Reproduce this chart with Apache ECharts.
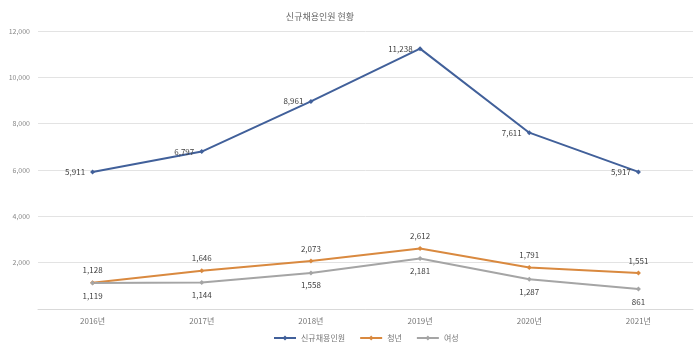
<!DOCTYPE html>
<html><head><meta charset="utf-8">
<script src="https://cdn.jsdelivr.net/npm/echarts@6/dist/echarts.min.js"></script>
<style>html,body{margin:0;padding:0;background:#fff}#c{width:700px;height:353px}</style>
</head><body><div id="c"></div>
<script>
const categories = ['2016년','2017년','2018년','2019년','2020년','2021년'];
const seriesNames = ['신규채용인원','청년','여성'];
const totalValues = [5911, 6797, 8961, 11238, 7611, 5917];
const youthValues = [1128, 1646, 2073, 2612, 1791, 1551];
const womenValues = [1119, 1144, 1558, 2181, 1287, 861];
const yTicks = [0, 2000, 4000, 6000, 8000, 10000, 12000];

const fmt = v => v.toLocaleString('en-US');
const chart = echarts.init(document.getElementById('c'));
const font = 'Noto Sans CJK KR';
chart.setOption({
  backgroundColor: '#fff',
  animation: false,
  textStyle: { fontFamily: font },
  title: { text: '신규채용인원 현황', left: 315, textAlign: 'center', top: 7,
    textStyle: { fontSize: 9, color: '#666', fontWeight: 'normal', fontFamily: font } },
  legend: { bottom: 6, left: 268, itemWidth: 22, itemHeight: 6, itemGap: 14,
    textStyle: { fontSize: 8, color: '#777' },
    data: seriesNames },
  grid: { left: 38, right: 7, top: 31, bottom: 44, containLabel: false },
  xAxis: { type: 'category', data: categories, boundaryGap: true,
    axisLine: { lineStyle: { color: '#d9d9d9' } }, axisTick: { show: false },
    axisLabel: { fontSize: 8, color: '#777', margin: 8 } },
  yAxis: { type: 'value', min: yTicks[0], max: yTicks[yTicks.length-1], interval: 2000,
    axisLine: { show: false }, axisTick: { show: false },
    splitLine: { lineStyle: { color: '#e3e3e3' } },
    axisLabel: { fontSize: 7, color: '#888', margin: 8, formatter: v => v === 0 ? '' : fmt(v) } },
  series: [
    { name: seriesNames[0], type: 'line', data: totalValues, symbol: 'diamond', symbolSize: 5,
      lineStyle: { width: 2, color: '#41609a' }, itemStyle: { color: '#41609a' },
      label: { show: true, position: 'left', distance: 5, fontSize: 8, color: '#404040', formatter: p => fmt(p.value) } },
    { name: seriesNames[1], type: 'line', data: youthValues, symbol: 'diamond', symbolSize: 5,
      lineStyle: { width: 2, color: '#d9893f' }, itemStyle: { color: '#d9893f' },
      label: { show: true, position: 'top', distance: 6, fontSize: 8, color: '#404040', formatter: p => fmt(p.value) } },
    { name: seriesNames[2], type: 'line', data: womenValues, symbol: 'diamond', symbolSize: 5,
      lineStyle: { width: 2, color: '#a5a5a5' }, itemStyle: { color: '#a5a5a5' },
      label: { show: true, position: 'bottom', distance: 6, fontSize: 8, color: '#404040', formatter: p => fmt(p.value) } }
  ]
});
</script></body></html>
